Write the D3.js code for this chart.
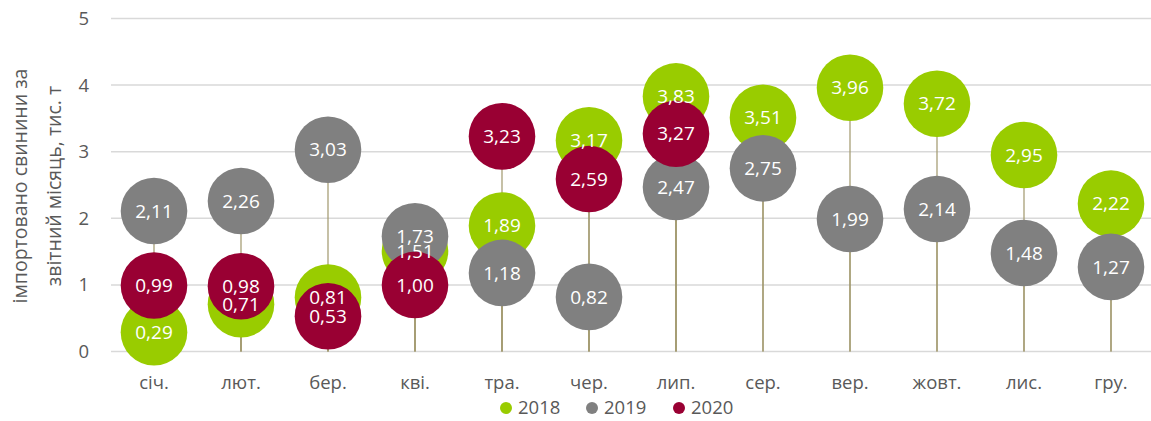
<!DOCTYPE html>
<html>
<head>
<meta charset="utf-8">
<script src="https://d3js.org/d3.v7.min.js"></script>
<style>
body{margin:0;background:#fff;}
text{font-family:"Open Sans","Liberation Sans",sans-serif;}
</style>
</head>
<body>
<script>
var months=["січ.","лют.","бер.","кві.","тра.","чер.","лип.","сер.","вер.","жовт.","лис.","гру."];
var v2018=[0.29,0.71,0.81,1.51,1.89,3.17,3.83,3.51,3.96,3.72,2.95,2.22];
var v2019=[2.11,2.26,3.03,1.73,1.18,0.82,2.47,2.75,1.99,2.14,1.48,1.27];
var v2020=[0.99,0.98,0.53,1.00,3.23,2.59,3.27];
var yTicks=[0,1,2,3,4,5];
var years=["2018","2019","2020"];
var colors=["#99cc00","#808080","#990033"];

var width=1151,height=421;
var svg=d3.select("body").append("svg").attr("width",width).attr("height",height);

var x=d3.scaleBand().domain(months).range([110.5,1154.5]);
var y=d3.scaleLinear().domain([0,5]).range([351.5,18.5]);

//сітка
svg.selectAll(".grid").data(yTicks).enter().append("line")
	.attr("x1",111).attr("x2",1151)
	.attr("y1",function(d){return y(d);}).attr("y2",function(d){return y(d);})
	.attr("stroke","#d9d9d9").attr("stroke-width",1.5);

svg.selectAll(".ytick").data(yTicks).enter().append("text")
	.attr("x",89).attr("y",function(d){return y(d);}).attr("dy","0.35em")
	.attr("text-anchor","end").attr("font-size","18.5px").attr("fill","#595959")
	.text(function(d){return d;});

svg.selectAll(".xtick").data(months).enter().append("text")
	.attr("x",function(d){return x(d)+x.bandwidth()/2;}).attr("y",383).attr("dy","0.35em")
	.attr("text-anchor","middle").attr("font-size","18.5px").attr("fill","#595959")
	.text(function(d){return d;});

//назва осі
var yt=svg.append("text").attr("transform","translate(0,186) rotate(-90)")
	.attr("text-anchor","middle").attr("font-size","19.5px").attr("fill","#595959");
yt.append("tspan").attr("x",0).attr("y",27).text("імпортовано свинини за");
yt.append("tspan").attr("x",0).attr("y",61).text("звітний місяць, тис. т");

var series=[v2018,v2019,v2020];
var pts=[];
series.forEach(function(s,k){
	s.forEach(function(v,i){pts.push({m:months[i],v:v,k:k});});
});

//лінії проекції
svg.selectAll(".drop").data(pts).enter().append("line")
	.attr("x1",function(d){return x(d.m)+x.bandwidth()/2;})
	.attr("x2",function(d){return x(d.m)+x.bandwidth()/2;})
	.attr("y1",y(0)).attr("y2",function(d){return y(d.v);})
	.attr("stroke","#a0976c").attr("stroke-width",1.2);

svg.selectAll(".bub").data(pts).enter().append("circle")
	.attr("cx",function(d){return x(d.m)+x.bandwidth()/2;})
	.attr("cy",function(d){return y(d.v);})
	.attr("r",33.3)
	.attr("fill",function(d){return colors[d.k];});

svg.selectAll(".lbl").data(pts).enter().append("text")
	.attr("x",function(d){return x(d.m)+x.bandwidth()/2;})
	.attr("y",function(d){return y(d.v);}).attr("dy","0.35em")
	.attr("text-anchor","middle").attr("font-size","19px").attr("fill","#fff")
	.text(function(d){return d.v.toFixed(2).replace(".",",");});

//легенда
var lx=[506,592,679];
var lg=svg.selectAll(".leg").data(years).enter().append("g")
	.attr("transform",function(d,i){return "translate("+lx[i]+",408)";});
lg.append("circle").attr("r",6).attr("fill",function(d,i){return colors[i];});
lg.append("text").attr("x",12).attr("dy","0.35em").attr("font-size","18.5px").attr("fill","#595959")
	.text(function(d){return d;});
</script>
</body>
</html>
